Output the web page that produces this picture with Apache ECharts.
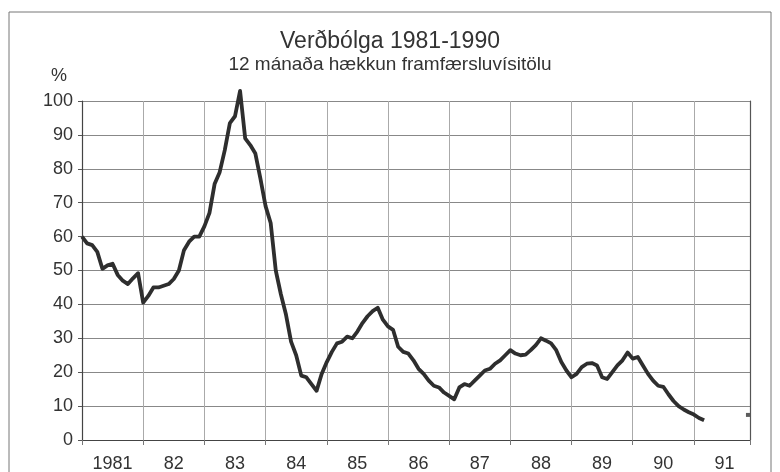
<!DOCTYPE html>
<html>
<head>
<meta charset="utf-8">
<script src="https://cdn.jsdelivr.net/npm/echarts@6/dist/echarts.min.js"></script>
<style>
  html, body { margin: 0; padding: 0; background: #fff; }
  #chart { width: 780px; height: 472px; }
</style>
</head>
<body>
<div id="chart"></div>
<script>
// 12 mánaða hækkun, mánaðarlega frá jan 1981
const inflation = [
  60, 58, 57.5, 55.5, 50.5, 51.5, 52, 48.7, 47, 46, 47.7, 49.2,
  40.5, 42.5, 45, 45, 45.5, 46, 47.5, 50, 56, 58.5, 60, 60,
  63, 67, 75.5, 79, 85.5, 93.5, 95.5, 103, 89, 87, 84.5, 77,
  69, 64, 50, 43, 37, 29, 25, 19, 18.5, 16.5, 14.5, 19.5,
  23, 26, 28.5, 29, 30.5, 30, 32, 34.5, 36.5, 38, 39, 35.5,
  33.5, 32.5, 27.5, 26, 25.5, 23.5, 21, 19.5, 17.5, 16, 15.5, 14,
  13, 12, 15.5, 16.5, 16, 17.5, 19, 20.5, 21, 22.5, 23.5, 25,
  26.5, 25.5, 25, 25.2, 26.5, 28, 30, 29.3, 28.5, 26.5, 23, 20.5,
  18.5, 19.5, 21.5, 22.5, 22.7, 22, 18.5, 18, 20, 22, 23.5, 25.8,
  24, 24.5, 22, 19.5, 17.5, 16, 15.7, 13.5, 11.5, 10, 9, 8.2,
  7.5, 6.5, 5.8
];
const yearLabels = ['1981', '82', '83', '84', '85', '86', '87', '88', '89', '90', '91'];
const forecastMonth = 130.6;
const forecastValue = 7.4;
const axisMonths = 131;

const lineData = inflation.map((v, i) => [i, v]);
const labelPos = yearLabels.map((_, i) => i * 12 + 6);

const font = "'Liberation Sans', Arial, sans-serif";
const chart = echarts.init(document.getElementById('chart'));

chart.setOption({
  backgroundColor: '#fff',
  animation: false,
  textStyle: { fontFamily: font, color: '#333' },
  title: {
    text: 'Verðbólga 1981-1990',
    subtext: '12 mánaða hækkun framfærsluvísitölu',
    left: 'center',
    top: 25,
    itemGap: 2,
    textStyle: { fontSize: 23, fontWeight: 'normal', color: '#333', fontFamily: font },
    subtextStyle: { fontSize: 19, color: '#333', fontFamily: font }
  },
  graphic: [{
    type: 'rect',
    shape: { x: 9, y: 12, width: 762, height: 480 },
    style: { fill: 'none', stroke: '#777', lineWidth: 1 },
    silent: true
  }],
  grid: {
    left: 82, right: 30, top: 101, bottom: 32,
    containLabel: false, outerBoundsMode: 'none'
  },
  xAxis: {
    type: 'value',
    min: 0,
    max: axisMonths,
    interval: 12,
    axisLine: { show: true, onZero: false, lineStyle: { color: '#444', width: 1.2 } },
    axisTick: { show: true, length: 5, lineStyle: { color: '#777' } },
    splitLine: { show: true, lineStyle: { color: '#aaa', width: 1 } },
    axisLabel: {
      customValues: labelPos,
      formatter: (v) => yearLabels[Math.round((v - 6) / 12)],
      fontSize: 18,
      color: '#333',
      margin: 15,
      fontFamily: font
    }
  },
  yAxis: [{
    type: 'value',
    min: 0,
    max: 100,
    interval: 10,
    name: '%',
    nameLocation: 'end',
    nameGap: 25,
    nameTextStyle: { fontSize: 18, color: '#333', align: 'right', verticalAlign: 'middle', padding: [0, 15, 0, 0] },
    axisLine: { show: true, lineStyle: { color: '#444', width: 1.2 } },
    axisTick: { show: true, length: 4, lineStyle: { color: '#555' } },
    splitLine: { show: true, lineStyle: { color: '#888', width: 1 } },
    axisLabel: { fontSize: 18, color: '#333', margin: 9, fontFamily: font }
  }, {
    type: 'value',
    position: 'right',
    min: 0,
    max: 100,
    axisLine: { show: true, lineStyle: { color: '#555', width: 1.2 } },
    axisTick: { show: false },
    axisLabel: { show: false },
    splitLine: { show: false }
  }],
  series: [{
    type: 'line',
    data: lineData,
    clip: false,
    symbol: 'none',
    lineStyle: { color: '#2e2e2e', width: 3.8, join: 'round' }
  }, {
    type: 'scatter',
    data: [[forecastMonth, forecastValue]],
    symbol: 'rect',
    symbolSize: [4, 4],
    itemStyle: { color: '#333' }
  }]
});
</script>
</body>
</html>
